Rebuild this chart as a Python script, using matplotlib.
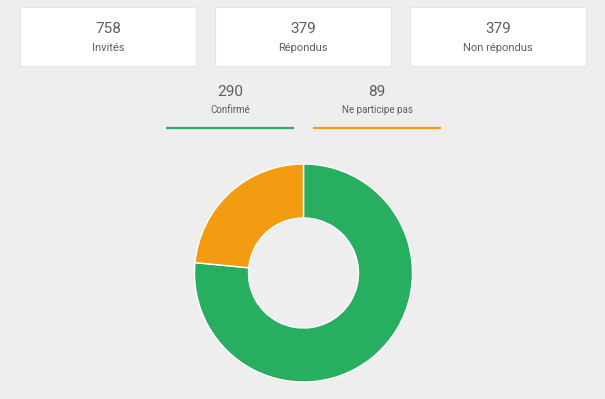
import matplotlib
matplotlib.use("Agg")
import matplotlib.pyplot as plt
from matplotlib.patches import Rectangle

plt.rcParams['font.family'] = ['Roboto', 'DejaVu Sans']

card_values = [758, 379, 379]
card_labels = ["Invités", "Répondus", "Non répondus"]
status_values = [290, 89]
status_labels = ["Confirmé", "Ne participe pas"]
status_colors = ["#27ae60", "#f39c12"]

BG = "#eeeeee"
TXT = "#5e5e5e"

fig = plt.figure(figsize=(6.05, 3.99), dpi=100, facecolor=BG)
ax = fig.add_axes([0, 0, 1, 1])
ax.set_xlim(0, 605)
ax.set_ylim(399, 0)
ax.axis("off")

card_x = [20, 215, 410]
card_w = 176
for x, v, lab in zip(card_x, card_values, card_labels):
    ax.add_patch(Rectangle((x, 7), card_w, 59, facecolor="white",
                           edgecolor="#e4e4e4", linewidth=0.8))
    ax.text(x + card_w / 2, 29, str(v), ha="center", va="center",
            fontsize=11, color=TXT)
    ax.text(x + card_w / 2, 48, lab, ha="center", va="center",
            fontsize=8, color=TXT)

stat_x = [166, 313]
stat_w = 128
for x, v, lab, c in zip(stat_x, status_values, status_labels, status_colors):
    ax.text(x + stat_w / 2, 92, str(v), ha="center", va="center",
            fontsize=11, color=TXT)
    ax.text(x + stat_w / 2, 110, lab, ha="center", va="center",
            fontsize=7, color=TXT)
    ax.plot([x, x + stat_w], [127.7, 127.7], color=c, linewidth=1.6,
            solid_capstyle="butt")

cx, cy, r = 303.5, 273, 109
pax = fig.add_axes([(cx - r) / 605, (399 - cy - r) / 399, 2 * r / 605, 2 * r / 399])
pax.pie(status_values, colors=status_colors, startangle=90, counterclock=False,
        radius=1, wedgeprops=dict(width=1 - 55 / 109, edgecolor="white", linewidth=1))
pax.set_xlim(-1, 1)
pax.set_ylim(-1, 1)
pax.set_aspect("equal")
pax.axis("off")

fig.savefig("out.png", dpi=100, facecolor=BG)
